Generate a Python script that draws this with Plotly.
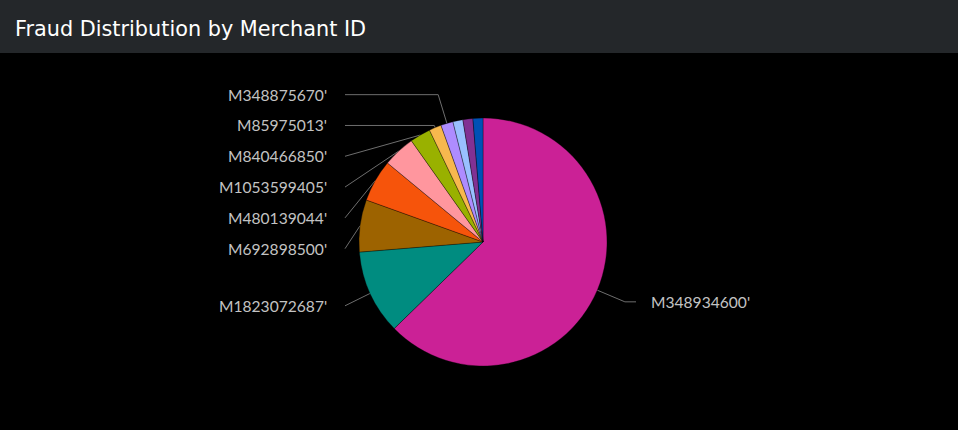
import math
import plotly.graph_objects as go

# ---------------- data ----------------
merchants = ["M348934600'", "M1823072687'", "M692898500'", "M480139044'",
             "M1053599405'", "M840466850'", "M85975013'", "M348875670'",
             "M1741626453'", "M1535107174'", "M855959430'"]
fraud_counts = [627, 110, 68, 55, 42, 27, 16, 16, 13, 13, 13]
slice_colors = ["#CB2196", "#008C80", "#9D6300", "#F6540B", "#FF969E", "#99B100",
                "#F7B84E", "#AE8CFF", "#99C0FF", "#813193", "#0051B5"]
chart_title = "Fraud Distribution by Merchant ID"

# ---------------- layout constants ----------------
W, H = 958, 430
CX, CY, R = 483, 242, 124          # pie centre / radius in pixels
LABEL_DIST = 30                    # natural label distance from the rim
LABEL_GAP = 30.8                   # min vertical spacing between labels
TOP_LIMIT = 90                     # highest allowed label centre
MIN_SHARE = 0.015                  # smaller slices get no label
LABEL_FONT = "Lato, 'Open Sans', sans-serif"
TITLE_FONT = "'DejaVu Sans', 'Open Sans', sans-serif"
LABEL_COLOR = "#C3C3C3"
LINE_COLOR = "#6E6E6E"

fig = go.Figure()

fig.add_trace(go.Pie(
    labels=merchants, values=fraud_counts, sort=False, direction="clockwise",
    rotation=0, textinfo="none", hoverinfo="label+value+percent",
    marker=dict(colors=slice_colors, line=dict(color="rgba(0,0,0,0.55)", width=0.6)),
    domain=dict(x=[(CX - R) / W, (CX + R) / W], y=[1 - (CY + R) / H, 1 - (CY - R) / H]),
    showlegend=False,
))

# ---------------- leader lines & labels, computed from the data ----------------
total = sum(fraud_counts)
cum = 0.0
items = []
for name, v in zip(merchants, fraud_counts):
    frac = v / total
    mid = (cum + frac / 2) * 2 * math.pi
    cum += frac
    if frac < MIN_SHARE:
        continue
    s, c = math.sin(mid), math.cos(mid)
    edge = (CX + R * s, CY - R * c)
    natural_y = CY - (R + LABEL_DIST) * c
    items.append(dict(name=name, s=s, c=c, edge=edge, ny=natural_y, left=s < 0))

annotations = []
for side_left in (True, False):
    side = sorted([it for it in items if it["left"] == side_left], key=lambda d: d["ny"])
    prev = -1e9
    for it in side:
        y = max(it["ny"], TOP_LIMIT, prev + LABEL_GAP)
        prev = y
        it["y"] = y
    for it in side:
        y = it["y"]
        ex, ey = it["edge"]
        line_x = CX - R - 14 if side_left else CX + R + 29
        pts = [(line_x, y)]
        dy = -it["c"]
        if abs(dy) > 1e-6:
            t = (y - ey) / dy
            bx = ex + t * it["s"]
            if t > 0 and ((side_left and bx > line_x) or (not side_left and bx < line_x)):
                pts.append((bx, y))
        pts.append((ex, ey))
        fig.add_trace(go.Scatter(
            x=[p[0] for p in pts], y=[p[1] for p in pts], mode="lines",
            line=dict(color=LINE_COLOR, width=1), hoverinfo="skip", showlegend=False,
        ))
        annotations.append(dict(
            x=line_x - 16 if side_left else line_x + 13, y=y, xref="x", yref="y",
            text=it["name"], showarrow=False, xanchor="right" if side_left else "left",
            yanchor="middle", font=dict(family=LABEL_FONT, size=15.6, color=LABEL_COLOR),
        ))

annotations.append(dict(
    x=13 / W, y=1 - 29.5 / H, xref="paper", yref="paper", text=chart_title,
    showarrow=False, xanchor="left", yanchor="middle",
    font=dict(family=TITLE_FONT, size=20.8, color="#FFFFFF"),
))

fig.update_layout(
    width=W, height=H, margin=dict(l=0, r=0, t=0, b=0),
    paper_bgcolor="#000000", plot_bgcolor="#000000",
    xaxis=dict(range=[0, W], visible=False, fixedrange=True, domain=[0, 1]),
    yaxis=dict(range=[H, 0], visible=False, fixedrange=True, domain=[0, 1]),
    shapes=[dict(type="rect", xref="paper", yref="paper", x0=0, x1=1,
                 y0=1 - 53 / H, y1=1, fillcolor="#24272A", line=dict(width=0), layer="below")],
    annotations=annotations,
)

fig.write_html("out.html", config={"displayModeBar": False})
